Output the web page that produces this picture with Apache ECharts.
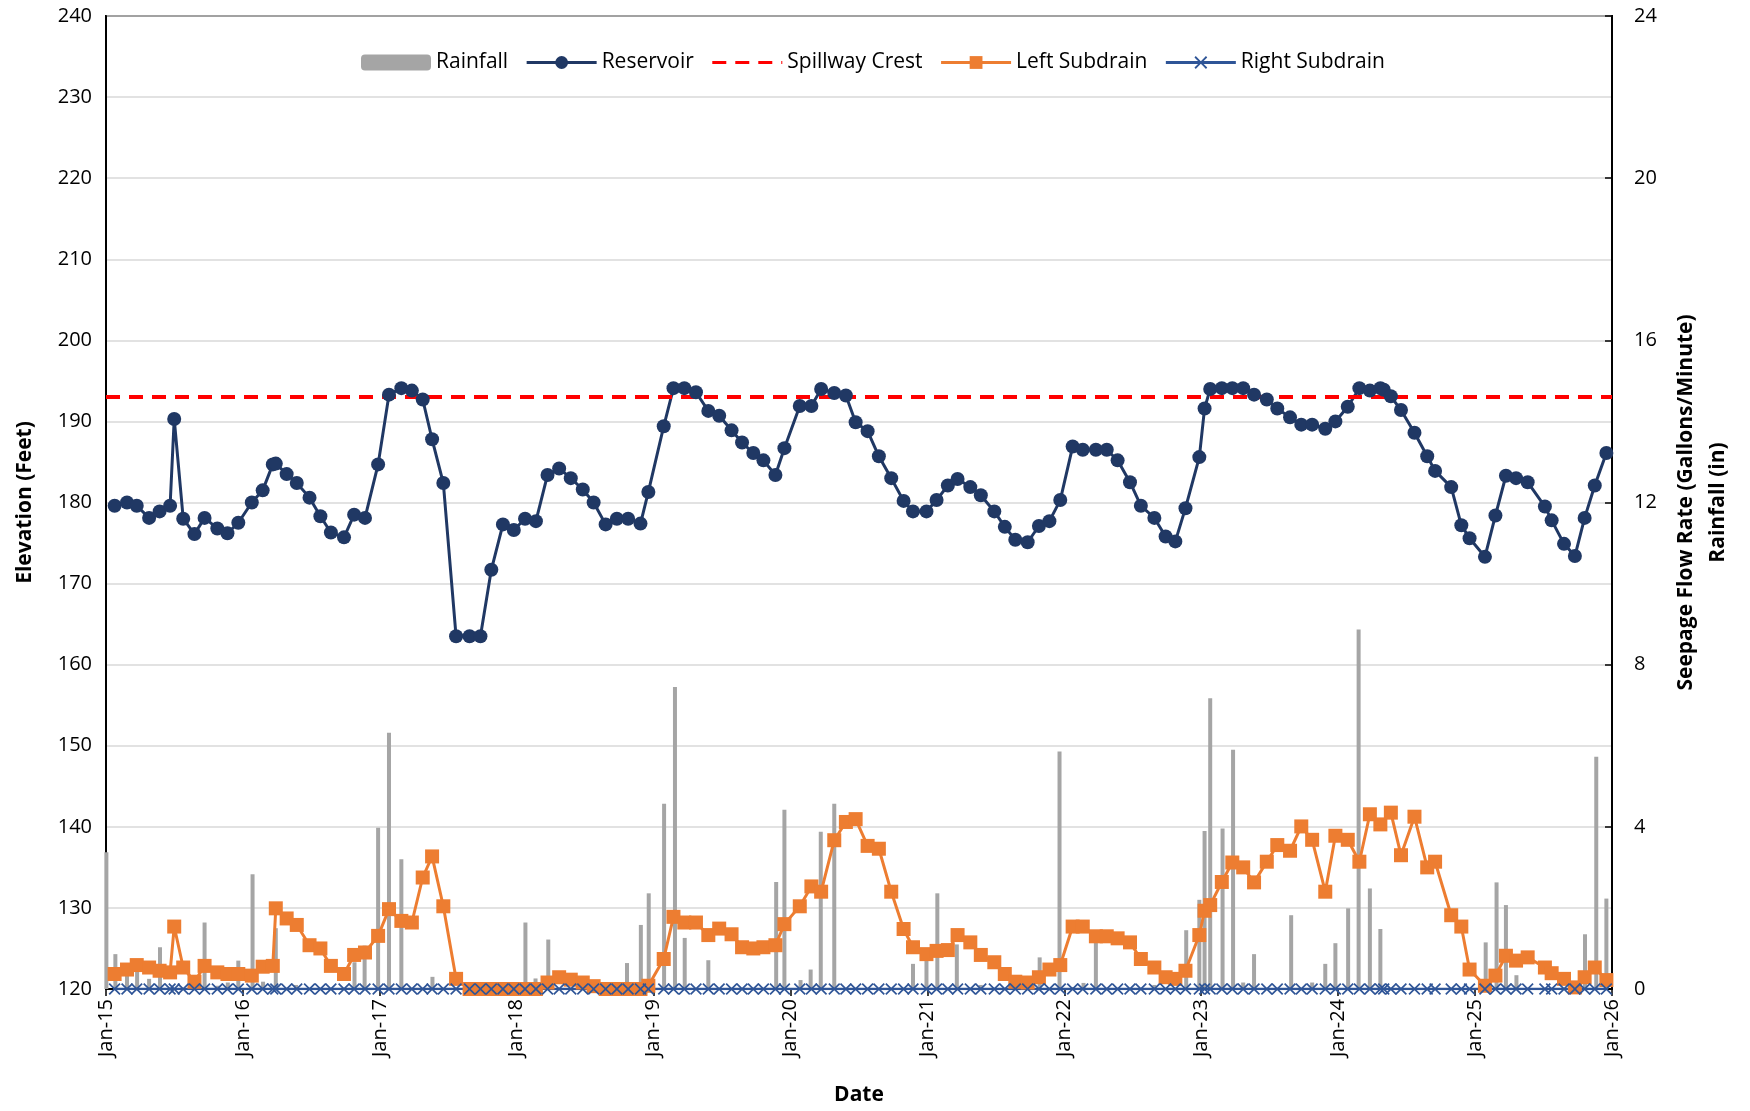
<!DOCTYPE html>
<html>
<head>
<meta charset="utf-8">
<title>Reservoir and Subdrain Monitoring</title>
<script src="https://cdn.jsdelivr.net/npm/echarts@6/dist/echarts.min.js"></script>
<style>
  html, body { margin: 0; padding: 0; background: #fff; }
  #chart { width: 1750px; height: 1111px; }
</style>
</head>
<body>
<div id="chart"></div>
<script>
// reading dates (reservoir and both subdrains share them)
const dates = [
  '2015-01-24','2015-02-26','2015-03-24','2015-04-26','2015-05-24','2015-06-21','2015-07-02','2015-07-26','2015-08-25','2015-09-21','2015-10-25','2015-11-21','2015-12-20',
  '2016-01-25','2016-02-23','2016-03-21','2016-03-29','2016-04-27','2016-05-24','2016-06-27','2016-07-26','2016-08-23','2016-09-27','2016-10-24','2016-11-22','2016-12-27',
  '2017-01-25','2017-02-27','2017-03-27','2017-04-25','2017-05-20','2017-06-19','2017-07-23','2017-08-28','2017-09-26','2017-10-25','2017-11-25','2017-12-24',
  '2018-01-23','2018-02-21','2018-03-24','2018-04-24','2018-05-25','2018-06-26','2018-07-25','2018-08-26','2018-09-25','2018-10-25','2018-11-27','2018-12-18',
  '2019-01-28','2019-02-23','2019-03-24','2019-04-24','2019-05-27','2019-06-25','2019-07-28','2019-08-25','2019-09-24','2019-10-21','2019-11-22','2019-12-16',
  '2020-01-26','2020-02-26','2020-03-23','2020-04-27','2020-05-28','2020-06-23','2020-07-25','2020-08-24','2020-09-26','2020-10-29','2020-11-23','2020-12-29',
  '2021-01-25','2021-02-24','2021-03-22','2021-04-25','2021-05-23','2021-06-28','2021-07-26','2021-08-23','2021-09-25','2021-10-25','2021-11-22','2021-12-21',
  '2022-01-23','2022-02-19','2022-03-26','2022-04-24','2022-05-23','2022-06-25','2022-07-24','2022-08-29','2022-09-28','2022-10-24','2022-11-20','2022-12-27',
  '2023-01-10','2023-01-25','2023-02-25','2023-03-25','2023-04-23','2023-05-22','2023-06-25','2023-07-23','2023-08-26','2023-09-25','2023-10-24','2023-11-28','2023-12-25',
  '2024-01-27','2024-02-27','2024-03-26','2024-04-23','2024-05-02','2024-05-21','2024-06-17','2024-07-23','2024-08-26','2024-09-16','2024-10-29','2024-11-25','2024-12-17',
  '2025-01-27','2025-02-24','2025-03-24','2025-04-20','2025-05-21','2025-07-06','2025-07-24','2025-08-26','2025-09-24','2025-10-20','2025-11-16','2025-12-17'
]

// reservoir elevation (feet)
const reservoir = [
  179.6,180.0,179.6,178.1,178.9,179.6,190.3,178.0,176.1,178.1,176.8,176.2,177.5,
  180.0,181.5,184.7,184.8,183.5,182.4,180.6,178.3,176.3,175.7,178.5,178.1,184.7,
  193.3,194.1,193.8,192.7,187.8,182.4,163.5,163.5,163.5,171.7,177.3,176.6,
  178.0,177.7,183.4,184.2,183.0,181.6,180.0,177.3,178.0,178.0,177.4,181.3,
  189.4,194.1,194.1,193.6,191.3,190.7,188.9,187.4,186.1,185.2,183.4,186.7,
  191.9,191.9,194.0,193.5,193.2,189.9,188.8,185.7,183.0,180.2,178.9,178.9,
  180.3,182.1,182.9,181.9,180.9,178.9,177.0,175.4,175.1,177.1,177.7,180.3,
  186.9,186.5,186.5,186.5,185.2,182.5,179.6,178.1,175.8,175.2,179.3,185.6,
  191.6,194.0,194.1,194.1,194.1,193.3,192.7,191.6,190.5,189.6,189.6,189.1,190.0,
  191.8,194.1,193.8,194.1,193.9,193.1,191.4,188.6,185.7,183.9,181.9,177.2,175.6,
  173.3,178.4,183.3,183.0,182.5,179.5,177.8,174.9,173.4,178.1,182.1,186.1
]

// left subdrain flow (gal/min)
const leftSubdrain = [
  0.37,0.48,0.59,0.53,0.45,0.41,1.54,0.53,0.18,0.57,0.41,0.37,0.37,
  0.33,0.55,0.57,1.99,1.74,1.58,1.08,1.00,0.57,0.37,0.84,0.90,1.31,
  1.97,1.68,1.64,2.75,3.27,2.04,0.25,0,0,0,0,0,
  0,0,0.16,0.29,0.23,0.16,0.07,0,0,0,0,0.08,
  0.74,1.78,1.64,1.64,1.33,1.49,1.35,1.03,1.00,1.03,1.08,1.60,
  2.04,2.53,2.40,3.67,4.12,4.19,3.53,3.46,2.40,1.48,1.03,0.86,
  0.94,0.96,1.33,1.15,0.84,0.66,0.37,0.18,0.16,0.29,0.48,0.59,
  1.54,1.54,1.30,1.30,1.25,1.15,0.74,0.53,0.29,0.25,0.45,1.33,
  1.93,2.07,2.64,3.12,3.00,2.63,3.14,3.55,3.41,4.01,3.68,2.40,3.78,
  3.68,3.14,4.31,4.06,null,4.35,3.30,4.25,3.00,3.14,1.82,1.54,0.48,
  0.08,0.33,0.82,0.70,0.78,0.53,0.39,0.25,0.04,0.29,0.53,0.22
]

// right subdrain flow (gal/min)
const rightSubdrain = [
  0,0,0,0,0,0,0,0,0,0,0,0,0,
  0,0,0,0,0,0,0,0,0,0,0,0,0,
  0,0,0,0,0,0,0,0,0,0,0,0,
  0,0,0,0,0,0,0,0,0,0,0,0,
  0,0,0,0,0,0,0,0,0,0,0,0,
  0,0,0,0,0,0,0,0,0,0,0,0,
  0,0,0,0,0,0,0,0,0,0,0,0,
  0,0,0,0,0,0,0,0,0,0,0,0,
  0,0,0,0,0,0,0,0,0,0,0,0,0,
  0,0,0,0,0,0,0,0,0,0,0,0,0,
  0,0,0,0,0,0,0,0,0,0,0,0
]

// rainfall events (in)
const rainDates = [
  '2015-01-02','2015-01-26','2015-02-26','2015-03-25','2015-04-26','2015-05-25','2015-09-21','2015-10-26','2015-11-22','2015-12-20',
  '2016-01-27','2016-02-24','2016-03-29','2016-05-22','2016-10-25','2016-11-21','2016-12-27',
  '2017-01-25','2017-02-27','2017-05-21',
  '2018-01-24','2018-02-20','2018-03-26','2018-10-22','2018-11-28','2018-12-19',
  '2019-01-29','2019-02-27','2019-03-25','2019-05-27','2019-11-24','2019-12-16',
  '2020-01-28','2020-02-24','2020-03-22','2020-04-27','2020-11-23','2020-12-29',
  '2021-01-27','2021-03-20','2021-05-23','2021-10-27','2021-12-19',
  '2022-01-24','2022-02-21','2022-03-26','2022-08-29','2022-11-22','2022-12-27',
  '2023-01-10','2023-01-25','2023-02-27','2023-03-27','2023-04-23','2023-05-22','2023-08-29','2023-10-24','2023-11-28','2023-12-25',
  '2024-01-28','2024-02-25','2024-03-26','2024-04-23',
  '2025-01-29','2025-02-27','2025-03-24','2025-04-21','2025-10-21','2025-11-20','2025-12-17'
]
const rainfall = [
  3.37,0.86,0.50,0.60,0.25,1.03,1.64,0.08,0.16,0.70,
  2.83,0.18,1.50,0.10,0.66,1.07,3.98,
  6.32,3.20,0.30,
  1.64,0.26,1.22,0.64,1.58,2.36,
  4.57,7.45,1.26,0.71,2.64,4.42,
  0.22,0.48,3.88,4.57,0.62,1.00,
  2.36,1.10,0.10,0.78,5.86,
  0.05,0.15,1.15,0.10,1.45,2.20,
  3.90,7.17,3.96,5.90,0.16,0.86,1.82,0.16,0.62,1.13,
  1.99,8.87,2.48,1.48,
  1.15,2.63,2.07,0.34,1.35,5.73,2.23
]

const spillwayCrest = 193
const yearTicks = ['2015','2016','2017','2018','2019','2020','2021','2022','2023','2024','2025','2026']
const months = ['Jan','Feb','Mar','Apr','May','Jun','Jul','Aug','Sep','Oct','Nov','Dec']

// dates as UTC timestamps on a numeric axis
const ts = d => Date.parse(d)
const tickValues = yearTicks.map(y => ts(y + '-01-01'))
const xStart = tickValues[0]
const xEnd = tickValues[tickValues.length - 1]

const font = 'Open Sans'
const crossPath = 'path://M0,1 L1,0 L5,4 L9,0 L10,1 L6,5 L10,9 L9,10 L5,6 L1,10 L0,9 L4,5 Z'

const chart = echarts.init(document.getElementById('chart'))
chart.setOption({
  animation: false,
  backgroundColor: '#fff',
  textStyle: { fontFamily: font, color: '#000' },
  grid: {
    left: 106, right: 138, top: 16, bottom: 121,
    show: true, borderColor: '#000', borderWidth: 2, backgroundColor: 'transparent'
  },
  legend: {
    left: 356, top: 47,
    itemWidth: 70, itemHeight: 16, itemGap: 17,
    lineStyle: { width: 3 },
    textStyle: { fontFamily: font, fontSize: 21, color: '#000' },
    data: [
      { name: 'Rainfall', icon: 'roundRect' },
      { name: 'Reservoir' },
      { name: 'Spillway Crest', itemStyle: { opacity: 0 } },
      { name: 'Left Subdrain' },
      { name: 'Right Subdrain' }
    ]
  },
  xAxis: {
    type: 'value',
    min: xStart, max: xEnd,
    name: 'Date', nameLocation: 'middle', nameGap: 96,
    nameTextStyle: { fontFamily: font, fontSize: 21, fontWeight: 'bold', color: '#000' },
    axisLine: { onZero: false, lineStyle: { color: '#000', width: 2 } },
    axisTick: { show: true, customValues: tickValues, length: 7, lineStyle: { color: '#000', width: 1.5 } },
    axisLabel: {
      customValues: tickValues,
      rotate: 90, margin: 10, fontSize: 20, color: '#000', fontFamily: font,
      formatter: v => {
        const d = new Date(v)
        return months[d.getUTCMonth()] + '-' + String(d.getUTCFullYear()).slice(2)
      }
    },
    splitLine: { show: false }
  },
  yAxis: [
    {
      type: 'value', min: 120, max: 240, interval: 10,
      name: 'Elevation (Feet)', nameLocation: 'middle', nameGap: 70,
      nameTextStyle: { fontFamily: font, fontSize: 21, fontWeight: 'bold', color: '#000' },
      axisLine: { show: true, lineStyle: { color: '#000', width: 2 } },
      axisTick: { show: false },
      axisLabel: { fontSize: 20, color: '#000', margin: 14, fontFamily: font },
      splitLine: { lineStyle: { color: '#D9D9D9', width: 1.5 } }
    },
    {
      type: 'value', min: 0, max: 24, interval: 4,
      name: 'Seepage Flow Rate (Gallons/Minute)\nRainfall (in)',
      nameLocation: 'middle', nameGap: 58, nameRotate: 90,
      nameTextStyle: { fontFamily: font, fontSize: 21, fontWeight: 'bold', color: '#000', lineHeight: 32, align: 'center' },
      axisLine: { show: true, lineStyle: { color: '#000', width: 2 } },
      axisTick: { show: true, inside: true, length: 7, lineStyle: { color: '#000', width: 1.5 } },
      axisLabel: { fontSize: 20, color: '#000', margin: 22, fontFamily: font },
      splitLine: { show: false }
    }
  ],
  series: [
    {
      name: 'Rainfall', type: 'bar', yAxisIndex: 1,
      barWidth: 4,
      itemStyle: { color: '#A5A5A5' },
      data: rainDates.map((d, i) => [ts(d), rainfall[i]])
    },
    {
      name: 'Reservoir', type: 'line', yAxisIndex: 0,
      symbol: 'circle', symbolSize: 14,
      lineStyle: { color: '#203864', width: 3 },
      itemStyle: { color: '#203864' },
      data: dates.map((d, i) => [ts(d), reservoir[i]])
    },
    {
      name: 'Spillway Crest', type: 'line', yAxisIndex: 0,
      symbol: 'none',
      lineStyle: { color: '#FF0000', width: 4, type: [14, 9] },
      itemStyle: { color: '#FF0000' },
      data: [[xStart, spillwayCrest], [xEnd, spillwayCrest]]
    },
    {
      name: 'Left Subdrain', type: 'line', yAxisIndex: 1,
      symbol: 'rect', symbolSize: 14, connectNulls: true,
      lineStyle: { color: '#ED7D31', width: 3 },
      itemStyle: { color: '#ED7D31' },
      data: dates.map((d, i) => [ts(d), leftSubdrain[i]])
    },
    {
      name: 'Right Subdrain', type: 'line', yAxisIndex: 1,
      symbol: crossPath, symbolSize: 12,
      lineStyle: { color: '#2F5597', width: 2.5 },
      itemStyle: { color: '#2F5597' },
      data: dates.map((d, i) => [ts(d), rightSubdrain[i]])
    }
  ]
})
</script>
</body>
</html>
